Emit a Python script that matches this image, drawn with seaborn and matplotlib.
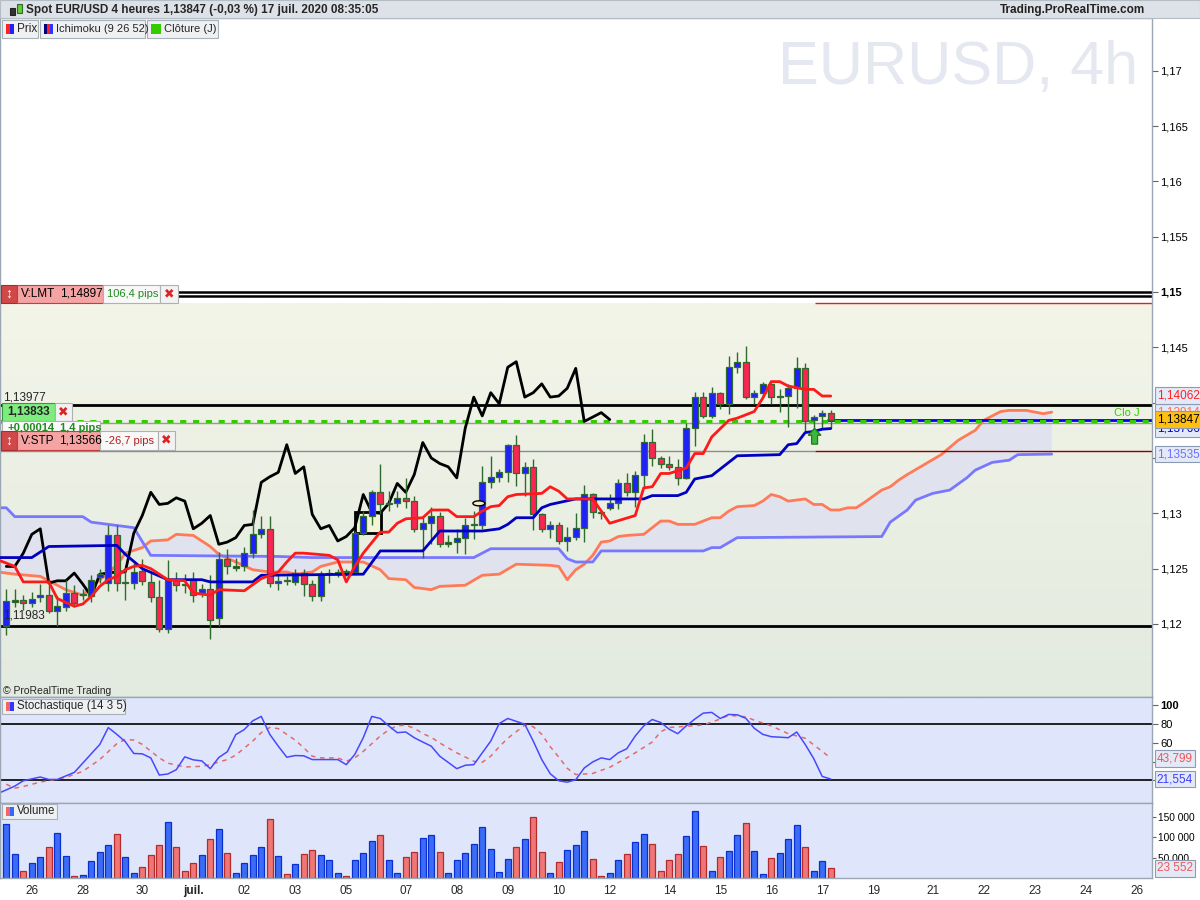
import numpy as np
import pandas as pd
import seaborn as sns
import matplotlib.pyplot as plt
from matplotlib.patches import Rectangle, Ellipse
from matplotlib.colors import LinearSegmentedColormap

# ---- data: EUR/USD 4h bars, index 0 = first bar of Fri 26 June 2020 ----
bar_idx = list(range(-2, 96))
opens = [1.1198, 1.1220, 1.1222, 1.1219, 1.1224, 1.1226, 1.1212, 1.1215, 1.1228, 1.1226,
         1.1225, 1.1242, 1.1237, 1.1280, 1.1237, 1.1237, 1.1248, 1.1238, 1.1224, 1.1195,
         1.1240, 1.1236, 1.1240, 1.1228, 1.1232, 1.1205, 1.1259, 1.1251, 1.1252, 1.1264,
         1.1281, 1.1286, 1.1237, 1.1240, 1.1238, 1.1246, 1.1236, 1.1225, 1.1245, 1.1246,
         1.1248, 1.1247, 1.1282, 1.1298, 1.1319, 1.1308, 1.1309, 1.1314, 1.1311, 1.1286,
         1.1291, 1.1298, 1.1272, 1.1274, 1.1278, 1.1289, 1.1289, 1.1328, 1.1333, 1.1337,
         1.1362, 1.1336, 1.1342, 1.1299, 1.1286, 1.1289, 1.1275, 1.1279, 1.1287, 1.1317,
         1.1301, 1.1305, 1.1309, 1.1327, 1.1319, 1.1335, 1.1364, 1.1350, 1.1345, 1.1342,
         1.1332, 1.1377, 1.1405, 1.1388, 1.1409, 1.1399, 1.1432, 1.1437, 1.1405, 1.1409,
         1.1417, 1.1405, 1.1406, 1.1413, 1.1431, 1.1384, 1.1388, 1.1391]
highs = [1.1232, 1.1232, 1.1226, 1.1229, 1.1236, 1.1240, 1.1225, 1.1240, 1.1235, 1.1232,
         1.1244, 1.1250, 1.1289, 1.1289, 1.1250, 1.1255, 1.1259, 1.1247, 1.1240, 1.1258,
         1.1247, 1.1245, 1.1247, 1.1236, 1.1244, 1.1265, 1.1268, 1.1260, 1.1270, 1.1303,
         1.1298, 1.1298, 1.1245, 1.1243, 1.1250, 1.1250, 1.1240, 1.1248, 1.1250, 1.1250,
         1.1250, 1.1284, 1.1302, 1.1321, 1.1345, 1.1320, 1.1320, 1.1332, 1.1316, 1.1297,
         1.1306, 1.1301, 1.1280, 1.1286, 1.1296, 1.1302, 1.1343, 1.1352, 1.1340, 1.1363,
         1.1371, 1.1346, 1.1349, 1.1300, 1.1293, 1.1292, 1.1288, 1.1300, 1.1326, 1.1318,
         1.1303, 1.1317, 1.1331, 1.1336, 1.1338, 1.1372, 1.1376, 1.1352, 1.1352, 1.1349,
         1.1382, 1.1410, 1.1410, 1.1414, 1.1410, 1.1442, 1.1446, 1.1451, 1.1411, 1.1419,
         1.1418, 1.1412, 1.1417, 1.1441, 1.1436, 1.1389, 1.1393, 1.1393]
lows = [1.1190, 1.1215, 1.1213, 1.1215, 1.1220, 1.1210, 1.1198, 1.1212, 1.1215, 1.1222,
        1.1220, 1.1237, 1.1230, 1.1230, 1.1222, 1.1232, 1.1235, 1.1220, 1.1193, 1.1192,
        1.1230, 1.1228, 1.1220, 1.1224, 1.1186, 1.1198, 1.1245, 1.1248, 1.1248, 1.1260,
        1.1278, 1.1233, 1.1231, 1.1235, 1.1235, 1.1225, 1.1221, 1.1221, 1.1237, 1.1242,
        1.1243, 1.1245, 1.1280, 1.1289, 1.1299, 1.1302, 1.1306, 1.1305, 1.1283, 1.1260,
        1.1272, 1.1270, 1.1270, 1.1264, 1.1263, 1.1277, 1.1286, 1.1323, 1.1328, 1.1328,
        1.1325, 1.1316, 1.1285, 1.1283, 1.1278, 1.1272, 1.1266, 1.1276, 1.1274, 1.1296,
        1.1295, 1.1303, 1.1304, 1.1316, 1.1306, 1.1323, 1.1343, 1.1341, 1.1339, 1.1326,
        1.1331, 1.1361, 1.1386, 1.1386, 1.1394, 1.1390, 1.1427, 1.1403, 1.1399, 1.1407,
        1.1399, 1.1392, 1.1378, 1.1395, 1.1374, 1.1377, 1.1377, 1.1377]
closes = [1.1221, 1.1222, 1.1219, 1.1223, 1.1226, 1.1212, 1.1216, 1.1228, 1.1219, 1.1227,
          1.1240, 1.1245, 1.1280, 1.1237, 1.1238, 1.1247, 1.1239, 1.1224, 1.1195, 1.1240,
          1.1235, 1.1235, 1.1226, 1.1232, 1.1204, 1.1259, 1.1252, 1.1252, 1.1264, 1.1281,
          1.1286, 1.1237, 1.1239, 1.1239, 1.1246, 1.1236, 1.1225, 1.1245, 1.1246, 1.1247,
          1.1247, 1.1282, 1.1298, 1.1319, 1.1308, 1.1309, 1.1314, 1.1311, 1.1286, 1.1291,
          1.1298, 1.1272, 1.1274, 1.1278, 1.1289, 1.1290, 1.1328, 1.1333, 1.1337, 1.1362,
          1.1336, 1.1342, 1.1299, 1.1286, 1.1289, 1.1275, 1.1279, 1.1287, 1.1317, 1.1301,
          1.1300, 1.1309, 1.1327, 1.1319, 1.1335, 1.1364, 1.1350, 1.1345, 1.1342, 1.1332,
          1.1377, 1.1405, 1.1388, 1.1409, 1.1399, 1.1432, 1.1437, 1.1405, 1.1409, 1.1417,
          1.1405, 1.1406, 1.1413, 1.1431, 1.1383, 1.1387, 1.1391, 1.13847]
volumes = [132400, 58800, 18000, 36800, 51500, 76000, 110300, 53900, 4900, 7400,
           42500, 64600, 80900, 107800, 51500, 12300, 27000, 56400, 80900, 137300,
           76000, 17200, 36800, 56400, 95600, 120100, 61300, 12300, 36800, 56400,
           76000, 144600, 53900, 9800, 34300, 58800, 68600, 56400, 44100, 12300,
           4900, 44100, 61300, 90700, 105400, 44100, 12300, 51500, 63700, 98000,
           105400, 63700, 12300, 44100, 61300, 83300, 125000, 71100, 14700, 46600,
           76000, 95600, 149500, 63700, 12300, 39200, 68600, 80900, 115200, 46600,
           4900, 12300, 44100, 58800, 88200, 107800, 83300, 17200, 44100, 58800,
           102900, 164200, 78400, 17200, 51500, 66200, 105400, 134800, 66200, 9800,
           49000, 61300, 95600, 129900, 76000, 17200, 41700, 23552]

# Ichimoku lines (vertices)
tenkan_x = [-3, -1, 0, 3, 4, 6, 7, 8, 9, 10, 11, 12, 13, 14, 15, 17, 19, 20, 22, 23, 26, 28, 30, 31,
            32, 33, 36, 37, 38, 39, 40, 42, 43, 44, 45, 47, 48, 50, 51, 53, 54, 55, 56, 57, 58, 61,
            62, 63, 64, 67, 68, 69, 72, 73, 74, 75, 76, 78, 79, 80, 81, 83, 84, 86, 87, 88, 89, 90,
            92, 93, 94, 95]
tenkan_y = [1.1258, 1.1252, 1.1238, 1.1238, 1.1223, 1.1216, 1.1218, 1.1225, 1.1234, 1.1240, 1.1243,
            1.1249, 1.1252, 1.1253, 1.1250, 1.1240, 1.1239, 1.1228, 1.1226, 1.1231, 1.1230, 1.1241,
            1.1247, 1.1256, 1.1264, 1.1264, 1.1262, 1.1258, 1.1238, 1.1252, 1.1264, 1.1283, 1.1283,
            1.1291, 1.1295, 1.1296, 1.1303, 1.1303, 1.1297, 1.1297, 1.1302, 1.1306, 1.1307, 1.1315,
            1.1317, 1.1318, 1.1324, 1.1320, 1.1313, 1.1313, 1.1302, 1.1291, 1.1298, 1.1323, 1.1324,
            1.1336, 1.1336, 1.1341, 1.1354, 1.1354, 1.1369, 1.1384, 1.1386, 1.1392, 1.1404, 1.1419,
            1.1419, 1.1415, 1.1412, 1.1412, 1.1406, 1.1406]
kijun_x = [-3, 1, 3, 11, 12, 14, 17, 21, 22, 27, 28, 40, 42, 47, 49, 54, 56, 57, 58, 60, 61, 62, 65,
           73, 74, 77, 78, 79, 81, 84, 89, 90, 91, 92, 93, 94, 95]
kijun_y = [1.1260, 1.1260, 1.1270, 1.1271, 1.1263, 1.1250, 1.1240, 1.1240, 1.1238, 1.1238, 1.1244,
           1.1245, 1.1266, 1.1266, 1.1284, 1.1284, 1.1286, 1.1290, 1.1296, 1.1296, 1.1305, 1.1308,
           1.1313, 1.1313, 1.1316, 1.1316, 1.1319, 1.1331, 1.1334, 1.1352, 1.1353, 1.1362, 1.1363,
           1.1373, 1.1374, 1.1376, 1.13766]
span_a_x = [-3, -1, 2, 5, 7, 9, 11, 12, 14, 15, 17, 18, 20, 22, 23, 25, 27, 29, 31, 32, 34, 35, 37,
            40, 42, 43, 45, 46, 48, 49, 52, 54, 56, 58, 62, 63, 64, 65, 66, 67, 68, 69, 70, 71, 73,
            74, 75, 76, 77, 79, 80, 81, 82, 83, 84, 86, 87, 88, 89, 90, 92, 93, 94, 95, 96, 97, 98,
            99, 101, 102, 103, 104, 106, 108, 110, 112, 113, 115, 116, 118, 120, 121]
span_a_y = [1.1247, 1.1245, 1.1243, 1.1231, 1.1226, 1.1240, 1.1253, 1.1264, 1.1269, 1.1275, 1.1276,
            1.1281, 1.1280, 1.1270, 1.1263, 1.1256, 1.1249, 1.1247, 1.1247, 1.1245, 1.1247, 1.1252,
            1.1256, 1.1256, 1.1249, 1.1241, 1.1240, 1.1233, 1.1231, 1.1234, 1.1235, 1.1244, 1.1245,
            1.1254, 1.1253, 1.1252, 1.1240, 1.1249, 1.1254, 1.1262, 1.1274, 1.1275, 1.1279, 1.1280,
            1.1281, 1.1287, 1.1293, 1.1293, 1.1290, 1.1290, 1.1293, 1.1296, 1.1296, 1.1302, 1.1306,
            1.1307, 1.1311, 1.1317, 1.1315, 1.1311, 1.1313, 1.1308, 1.1308, 1.1303, 1.1303, 1.1305,
            1.1305, 1.1310, 1.1321, 1.1324, 1.1330, 1.1335, 1.1344, 1.1353, 1.1366, 1.1375, 1.1384,
            1.1392, 1.1393, 1.1393, 1.1390, 1.13914]
span_b_x = [-3, -2, -1, 7, 8, 13, 15, 30, 34, 53, 55, 63, 64, 65, 67, 68, 80, 81, 82, 84, 101, 102,
            104, 105, 107, 109, 111, 112, 114, 116, 117, 121]
span_b_y = [1.1305, 1.1305, 1.1297, 1.1297, 1.1292, 1.1287, 1.1262, 1.1261, 1.1260, 1.1260, 1.1268,
            1.1268, 1.1259, 1.1256, 1.1256, 1.1266, 1.1266, 1.1269, 1.1269, 1.1278, 1.1279, 1.1292,
            1.1303, 1.1312, 1.1318, 1.1321, 1.1332, 1.1339, 1.1346, 1.1348, 1.1353, 1.13535]

# Stochastic (14 3 5)
stoch_k_x = [-3, -1, 0, 2, 3, 4, 6, 7, 8, 9, 10, 11, 12, 13, 14, 15, 16, 17, 18, 19, 20, 21, 22, 23,
             24, 25, 26, 27, 28, 29, 30, 31, 32, 33, 34, 37, 38, 39, 40, 41, 42, 43, 44, 45, 46, 47,
             48, 49, 51, 52, 53, 55, 56, 57, 59, 60, 61, 62, 63, 64, 65, 66, 67, 68, 69, 70, 71, 72,
             73, 74, 75, 76, 77, 78, 79, 80, 81, 82, 83, 84, 85, 86, 87, 88, 90, 91, 92, 93, 94, 95]
stoch_k = [6, 14, 19.7, 23.7, 21.1, 21.1, 28.6, 38.5, 48.5, 58.4, 76.4, 69.2, 61.4, 48.8, 48.4, 44.1,
           25.8, 26.9, 31.5, 45.2, 42.0, 40.9, 32.6, 44.5, 50.6, 68.9, 74.3, 83.6, 88.3, 69.2, 56.6,
           44.8, 46.6, 46.3, 42.3, 42.3, 36.9, 47.7, 65.6, 88.3, 86.1, 78.2, 71.0, 71.7, 65.6, 61.0,
           56.6, 45.9, 32.6, 36.2, 36.9, 62.0, 80.7, 86.1, 80.0, 62.0, 42.3, 27.2, 19.7, 18.2, 20.8,
           33.3, 39.8, 44.1, 42.3, 49.5, 53.8, 67.4, 78.2, 85.0, 81.8, 74.6, 69.9, 78.2, 85.4, 91.8,
           92.6, 86.1, 90.4, 90.0, 86.4, 75.7, 69.2, 66.7, 65.6, 71.7, 58.4, 43.3, 24.3, 21.554]
stoch_d_x = [-2, -1, 0, 2, 4, 5, 7, 9, 11, 12, 13, 14, 16, 17, 19, 21, 22, 24, 25, 27, 28, 29, 30,
             32, 33, 34, 35, 37, 38, 39, 40, 42, 43, 44, 45, 46, 47, 48, 49, 51, 53, 54, 55, 56, 57,
             59, 60, 61, 62, 63, 64, 65, 67, 69, 71, 72, 74, 75, 76, 78, 80, 82, 83, 85, 86, 88, 90,
             92, 93, 94, 95]
stoch_d = [16, 11.8, 13.6, 18.3, 21.5, 23.3, 29.7, 42.3, 59.2, 63.8, 63.1, 58.5, 44.1, 38.5, 34.4,
           35.1, 37.0, 42.3, 47.0, 62.0, 71.0, 76.5, 75.3, 63.0, 54.9, 45.9, 44.1, 44.1, 40.5, 44.1,
           51.0, 67.4, 74.0, 78.5, 78.9, 75.7, 70.0, 66.0, 60.0, 49.5, 40.5, 39.4, 45.9, 56.0, 65.0,
           79.0, 77.4, 69.2, 56.0, 45.0, 33.0, 26.3, 27.5, 34.1, 44.1, 49.5, 61.0, 72.0, 76.5, 77.8,
           79.2, 85.5, 89.5, 87.9, 84.3, 78.2, 69.9, 65.0, 58.0, 51.0, 43.799]

# x axis day labels (bar index of each label)
tick_pos = [1, 7, 14, 20, 26, 32, 38, 45, 51, 57, 63, 69, 76, 82, 88, 94, 100, 107, 113, 119, 125, 131]
tick_lab = ['26', '28', '30', 'juil.', '02', '03', '05', '07', '08', '09', '10', '12', '14', '15',
            '16', '17', '19', '21', '22', '23', '24', '26']

df = pd.DataFrame({'i': bar_idx, 'open': opens, 'high': highs, 'low': lows,
                   'close': closes, 'volume': volumes})
df['up'] = df['close'] >= df['open']

sns.set_style('white')
plt.rcParams['font.family'] = ['Liberation Sans', 'DejaVu Sans']

W, H = 1200, 900
def fx(x): return x / W
def fy(y): return 1 - y / H

fig = plt.figure(figsize=(12, 9), dpi=100)
ax = fig.add_axes([0, fy(697), fx(1152), (697 - 18) / H])
axs = fig.add_axes([0, fy(803), fx(1152), 106 / H], sharex=ax)
axv = fig.add_axes([0, fy(878), fx(1152), 75 / H], sharex=ax)

X0, X1 = -2.74, 132.8
Y0, Y1 = 1.1134, 1.17476
GREEN_EDGE = '#2f6a2f'
FS = 8

# background gradient of the price pane
bg = LinearSegmentedColormap.from_list('bg', ['#e3eadf', '#f3f5e8'])
ax.imshow(np.linspace(0, 1, 200).reshape(-1, 1), cmap=bg, origin='lower', aspect='auto',
          extent=(X0, X1, Y0, 1.14897), zorder=0)

# kumo
cx = np.r_[span_a_x, span_b_x[::-1]]
cy = np.r_[span_a_y, span_b_y[::-1]]
ax.fill(cx, cy, color='#e0e3ee', lw=0, zorder=1)
sns.lineplot(x=span_a_x, y=span_a_y, ax=ax, color='#ff7a58', linewidth=2, sort=False,
             estimator=None, legend=False, zorder=2)
sns.lineplot(x=span_b_x, y=span_b_y, ax=ax, color='#7878ff', linewidth=2, sort=False,
             estimator=None, legend=False, zorder=2)

# horizontal order lines
for lvl in (1.1500, 1.1496):
    ax.axhline(lvl, color='black', lw=1.8, zorder=2)
ax.axhline(1.13977, color='black', lw=2, zorder=2)
ax.axhline(1.11983, color='black', lw=2, zorder=2)
ax.axhline(1.13819, color='#9a9a9a', lw=1, zorder=2)
ax.axhline(1.13833, color='#33cc00', lw=2.2, ls=(0, (2, 2.2)), zorder=2.1)
ax.hlines(1.13566, X0, 93.1, color='#8c8c8c', lw=1, zorder=2)
ax.hlines(1.13566, 93.1, X1, color='#8b0000', lw=1, zorder=2)
ax.hlines(1.14897, 93.1, X1, color='#dd2222', lw=1, zorder=2)
ax.hlines(1.13847, 94.6, X1, color='#0000ff', lw=2, zorder=2)
ax.text(131.4, 1.13905, 'Clo J', color='#33cc00', fontsize=FS, ha='right', va='center', zorder=6)

# box & ellipse drawn on chart
ax.add_patch(Rectangle((39.0, 1.1282), 3.1, 0.0019, fc='#f3f5d6', ec='black', lw=2, zorder=2.5))
ax.add_patch(Ellipse((53.6, 1.1309), 1.4, 0.00045, fc='#f2f0c4', ec='black', lw=1, zorder=6))

# chikou span = close shifted back 26 bars
chikou_x = df['i'].iloc[26:] - 26
chikou_y = df['close'].iloc[26:]
sns.lineplot(x=chikou_x.values, y=chikou_y.values, ax=ax, color='black', linewidth=2, sort=False,
             estimator=None, legend=False, zorder=3)

# candles
body = (df['close'] - df['open']).to_numpy()
body = np.where(np.abs(body) < 0.00004, np.where(body >= 0, 0.00004, -0.00004), body)
ax.vlines(df['i'], df['low'], df['high'], color=GREEN_EDGE, lw=1, zorder=3.5)
ax.bar(df['i'], body, bottom=df['open'], width=0.68,
       color=np.where(df['up'], '#1f1fff', '#ff2353'), edgecolor=GREEN_EDGE, linewidth=0.9, zorder=4)

sns.lineplot(x=kijun_x, y=kijun_y, ax=ax, color='#0000c0', linewidth=2, sort=False,
             estimator=None, legend=False, zorder=5)
sns.lineplot(x=tenkan_x, y=tenkan_y, ax=ax, color='#ff1a1a', linewidth=2, sort=False,
             estimator=None, legend=False, zorder=5)

# green buy arrow under the last candles
arrow_x = [92.75, 93.45, 93.45, 93.85, 93.1, 92.35, 92.75]
arrow_y = [1.13625, 1.13625, 1.13705, 1.13705, 1.13768, 1.13705, 1.13705]
ax.fill(arrow_x, arrow_y, fc='#3cb83c', ec='#1f7a1f', lw=0.9, zorder=7)

ax.text(0.988, 0.968, 'EURUSD, 4h', transform=ax.transAxes, ha='right', va='top',
        fontsize=44, color='#e6e8f1', zorder=0.5)

# ---- stochastic ----
axs.set_facecolor('#dfe6fb')
axs.axhline(80, color='black', lw=1.2)
axs.axhline(20, color='black', lw=1.2)
sns.lineplot(x=stoch_d_x, y=stoch_d, ax=axs, color='#e46a6a', linewidth=1.1, linestyle=(0, (3, 3)),
             sort=False, estimator=None, legend=False)
sns.lineplot(x=stoch_k_x, y=stoch_k, ax=axs, color='#4848ff', linewidth=1.1, sort=False,
             estimator=None, legend=False)

# ---- volume ----
axv.set_facecolor('#dfe6fb')
axv.bar(df['i'], df['volume'], width=0.72, color=np.where(df['up'], '#3c6cf6', '#ef7676'),
        edgecolor=np.where(df['up'], '#0a2fd0', '#b52a2a'), linewidth=0.9)

# ---- axes limits, ticks ----
ax.set_xlim(X0, X1)
ax.set_ylim(Y0, Y1)
axs.set_ylim(-4, 109)
axv.set_ylim(0, 184600)

def comma(v, nd):
    s = f'{v:.{nd}f}'.rstrip('0').rstrip('.')
    return s.replace('.', ',')

# labels hidden behind value boxes in the original are left blank
price_ticks = [1.12, 1.125, 1.13, 1.135, 1.14, 1.145, 1.15, 1.155, 1.16, 1.165, 1.17]
ax.set_yticks(price_ticks)
ax.set_yticklabels(['' if v in (1.135, 1.14) else comma(v, 3) for v in price_ticks])
axs.set_yticks([20, 40, 60, 80, 100])
axs.set_yticklabels(['', '', '60', '80', '100'])
axv.set_yticks([50000, 100000, 150000])
axv.set_yticklabels(['50 000', '100 000', '150 000'])

for a in (ax, axs, axv):
    a.yaxis.tick_right()
    a.tick_params(axis='y', direction='out', length=4, width=0.8, color='#666666',
                  labelsize=FS, pad=2, labelcolor='black')
    a.set_xlabel('')
    a.set_ylabel('')
    for sp in a.spines.values():
        sp.set_color('#9aa6b2')
        sp.set_linewidth(1)
axv.tick_params(axis='y', labelsize=7.3, pad=1.5, length=3)
for lab in ax.get_yticklabels():
    if lab.get_text() == '1,15':
        lab.set_fontweight('bold')
for lab in axs.get_yticklabels():
    if lab.get_text() == '100':
        lab.set_fontweight('bold')

ax.tick_params(axis='x', bottom=False, labelbottom=False)
axs.tick_params(axis='x', bottom=False, labelbottom=False)
axv.set_xticks(tick_pos)
axv.set_xticklabels(tick_lab)
axv.tick_params(axis='x', length=0, labelsize=FS + 0.5, pad=5)
for lab in axv.get_xticklabels():
    if lab.get_text() == 'juil.':
        lab.set_fontweight('bold')

# value boxes on the right scale
def vbox(a, y, s, color, fc='#e3e9f6'):
    a.annotate(s, xy=(1, y), xycoords=('axes fraction', 'data'), xytext=(3.5, 0),
               textcoords='offset points', ha='left', va='center', color=color, fontsize=FS + 0.5,
               bbox=dict(boxstyle='square,pad=0.2', fc=fc, ec='#8c9bb5', lw=0.8),
               annotation_clip=False, zorder=10)

vbox(ax, 1.13914, '1,13914', '#ff7050')
vbox(ax, 1.14062, '1,14062', '#ff2020')
vbox(ax, 1.13766, '1,13766', '#0000cc')
vbox(ax, 1.13847, '1,13847', 'black', fc='#ffc012')
vbox(ax, 1.13535, '1,13535', '#7070ff')
vbox(axs, 43.799, '43,799', '#ee5555')
vbox(axs, 21.554, '21,554', '#3c3cff')
vbox(axv, 23552, '23 552', '#ee5a5a')

# ---- figure-level decorations (pixel helpers) ----
def box(x0, y0, x1, y1, fc, ec='#a8b0b8', lw=0.8, z=2):
    fig.add_artist(Rectangle((fx(x0), fy(y1)), (x1 - x0) / W, (y1 - y0) / H,
                             transform=fig.transFigure, fc=fc, ec=ec, lw=lw, zorder=z))

def txt(x, y, s, **kw):
    kw.setdefault('fontsize', FS + 0.5)
    kw.setdefault('va', 'center')
    kw.setdefault('zorder', 5)
    fig.text(fx(x), fy(y), s, **kw)

# header bar
box(0, 0, 1200, 18, '#dde2e8', ec='#b4bcc4', z=2)
box(10, 8, 15, 15, '#333333', ec='#222222', z=3)
box(17, 4, 22, 13, '#66cc33', ec='#2f6a2f', z=3)
txt(26, 9.5, 'Spot EUR/USD 4 heures 1,13847 (-0,03 %) 17 juil. 2020 08:35:05', fontweight='bold')
txt(1145, 9.5, 'Trading.ProRealTime.com', ha='right', fontweight='bold', color='#222222')

# legend row
box(2, 20, 38, 38, '#eef0f2')
box(6, 24, 10, 34, '#ff2020', ec='none', z=3)
box(10, 24, 14, 34, '#2020ff', ec='none', z=3)
txt(17, 29.5, 'Prix', fontsize=FS + 0.5)
box(40, 20, 145, 38, '#eef0f2')
box(44, 24, 47, 34, '#000080', ec='none', z=3)
box(47, 24, 50, 34, '#ff2020', ec='none', z=3)
box(50, 24, 53, 34, '#3030ff', ec='none', z=3)
txt(56, 29.5, 'Ichimoku (9 26 52)', fontsize=FS)
box(147, 20, 218, 38, '#eef0f2')
box(151, 24, 161, 34, '#33cc00', ec='none', z=3)
txt(164, 29.5, 'Clôture (J)', fontsize=FS)

# order boxes
box(1, 285, 17, 303, '#d24848', ec='#a03030')
txt(9, 294, '↕', ha='center', color='white', fontweight='bold', fontsize=10)
box(17, 285, 103, 303, '#f5a3a3', ec='#c04040')
txt(21, 294, 'V:LMT', color='black')
txt(60, 294, '1,14897', color='black')
box(103, 285, 160, 303, '#f8f8f8', ec='#b0b0b0')
txt(107, 294, '106,4 pips', color='#1f8a1f', fontsize=FS)
box(160, 285, 178, 303, '#f2f2f2', ec='#b0b0b0')
txt(169, 294, '✖', ha='center', color='#dd2222', fontsize=9)

txt(3, 397, '1,13977')
box(2, 403, 55, 421, '#7ded7d', ec='#3a9a3a')
txt(28.5, 412, '1,13833', ha='center', fontweight='bold')
box(55, 403, 72, 421, '#f2f2f2', ec='#b0b0b0')
txt(63.5, 412, '✖', ha='center', color='#dd2222', fontsize=9)
box(2, 421, 100, 441, '#fafafa', ec='#b0b0b0')
txt(8, 428, '+0,00014', color='#1f8a1f', fontweight='bold', fontsize=FS)
txt(60, 428, '1,4 pips', color='#1f8a1f', fontweight='bold', fontsize=FS)
box(1, 431, 17, 450, '#d24848', ec='#a03030', z=3)
txt(9, 440.5, '↕', ha='center', color='white', fontweight='bold', fontsize=10)
box(17, 431, 100, 450, '#f5a3a3', ec='#c04040', z=3)
txt(21, 440.5, 'V:STP', color='black')
txt(59, 440.5, '1,13566', color='black')
box(100, 431, 158, 450, '#f8f8f8', ec='#b0b0b0', z=3)
txt(105, 440.5, '-26,7 pips', color='#b02020', fontsize=FS)
box(158, 431, 175, 450, '#f2f2f2', ec='#b0b0b0', z=3)
txt(166.5, 440.5, '✖', ha='center', color='#dd2222', fontsize=9)

txt(3, 616, '1,11983')
txt(3, 690.5, '© ProRealTime Trading', fontsize=7.5)

# pane labels
box(2, 699, 125, 714, '#eef0f2')
box(6, 702, 10, 711, '#ee6666', ec='none', z=3)
box(10, 702, 14, 711, '#3434ff', ec='none', z=3)
txt(17, 706.5, 'Stochastique (14 3 5)', fontsize=FS + 0.3)
box(2, 804, 57, 819, '#eef0f2')
box(6, 807, 10, 816, '#ee6666', ec='none', z=3)
box(10, 807, 14, 816, '#3468ff', ec='none', z=3)
txt(17, 811.5, 'Volume', fontsize=FS + 0.3)

fig.savefig('out.png', dpi=100)
